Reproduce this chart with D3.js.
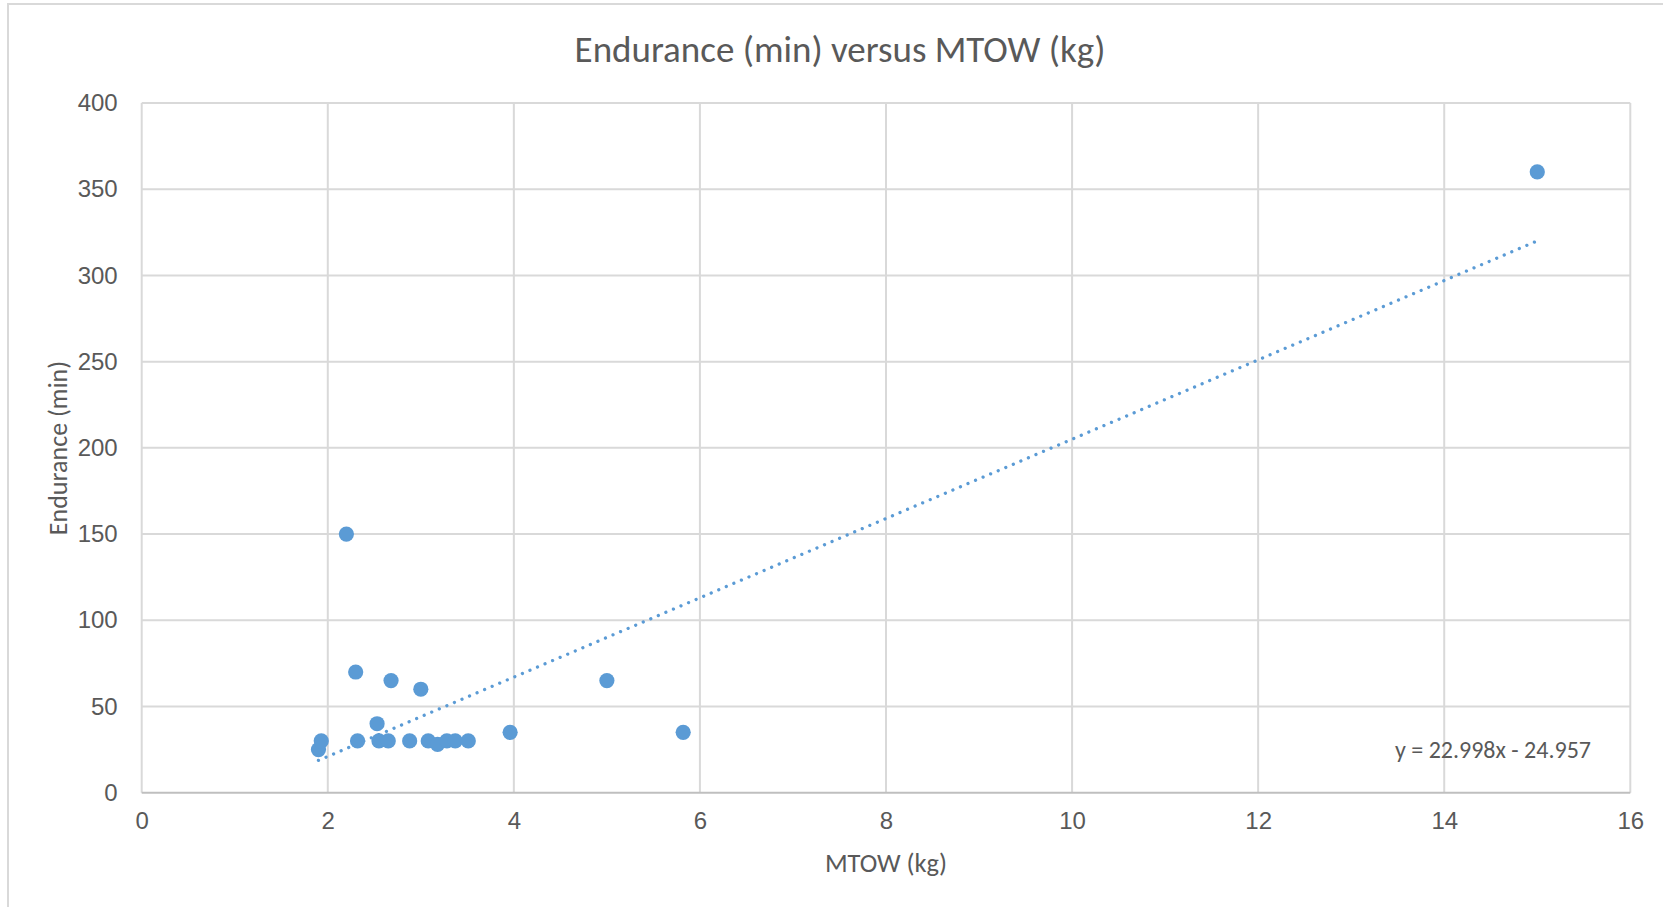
<!DOCTYPE html>
<html>
<head>
<meta charset="utf-8">
<script src="https://cdn.jsdelivr.net/npm/d3@7"></script>
<style>
  body { margin: 0; background: #fff; }
  svg { display: block; font-family: Carlito, Calibri, Lato, "Open Sans", sans-serif; }
</style>
</head>
<body>
<svg id="chart" width="1663" height="907"></svg>
<script>
// data
var mtow = [1.9, 1.93, 2.2, 2.3, 2.32, 2.53, 2.55, 2.65, 2.68, 2.88, 3.0, 3.08, 3.18, 3.28, 3.37, 3.51, 3.96, 5.0, 5.82, 15];
var endurance = [25, 30, 150, 70, 30, 40, 30, 30, 65, 30, 60, 30, 28, 30, 30, 30, 35, 65, 35, 360];
var xTicks = [0, 2, 4, 6, 8, 10, 12, 14, 16];
var yTicks = [0, 50, 100, 150, 200, 250, 300, 350, 400];
var trendSlope = 22.998, trendIntercept = -24.957;
var trendLabel = "y = 22.998x - 24.957";

var points = mtow.map(function(d, i){ return {x: d, y: endurance[i]} });

var svg = d3.select('#chart');
var plotLeft = 141.7, plotRight = 1630.3, plotTop = 103, plotBottom = 792.7;
var textColor = "#595959", gridColor = "#d9d9d9", blue = "#5b9bd5";

var x = d3.scaleLinear().domain([0, 16]).range([plotLeft, plotRight]);
var y = d3.scaleLinear().domain([0, 400]).range([plotBottom, plotTop]);

// chart frame
svg.append('rect')
	.attr('x', 8).attr('y', 4).attr('width', 1670).attr('height', 920)
	.attr('fill', 'none').attr('stroke', gridColor).attr('stroke-width', 2);

// gridlines
svg.append('g').selectAll('line').data(yTicks.slice(1)).enter().append('line')
	.attr('x1', plotLeft).attr('x2', plotRight)
	.attr('y1', function(d){ return y(d) }).attr('y2', function(d){ return y(d) })
	.attr('stroke', gridColor).attr('stroke-width', 2);
svg.append('g').selectAll('line').data(xTicks).enter().append('line')
	.attr('y1', plotTop).attr('y2', plotBottom)
	.attr('x1', function(d){ return x(d) }).attr('x2', function(d){ return x(d) })
	.attr('stroke', gridColor).attr('stroke-width', 2);

// x axis line
svg.append('line')
	.attr('x1', plotLeft).attr('x2', plotRight).attr('y1', plotBottom).attr('y2', plotBottom)
	.attr('stroke', '#bfbfbf').attr('stroke-width', 2);

// tick labels
var xAxis = d3.axisBottom(x).tickValues(xTicks).tickSize(0).tickPadding(19).tickFormat(d3.format('d'));
var gx = svg.append('g').attr('transform', 'translate(0,' + plotBottom + ')').call(xAxis);
gx.select('.domain').remove();
gx.selectAll('text').attr('fill', textColor).attr('font-size', 24).attr('font-family', null);

var yAxis = d3.axisLeft(y).tickValues(yTicks).tickSize(0).tickPadding(24).tickFormat(d3.format('d'));
var gy = svg.append('g').attr('transform', 'translate(' + plotLeft + ',0)').call(yAxis);
gy.select('.domain').remove();
gy.selectAll('text').attr('fill', textColor).attr('font-size', 24).attr('font-family', null);

// trendline
var xMin = d3.min(mtow), xMax = d3.max(mtow);
svg.append('line')
	.attr('x1', x(xMin)).attr('y1', y(trendSlope * xMin + trendIntercept))
	.attr('x2', x(xMax)).attr('y2', y(trendSlope * xMax + trendIntercept))
	.attr('stroke', blue).attr('stroke-width', 3.3)
	.attr('stroke-linecap', 'round').attr('stroke-dasharray', '0.01,8.2');

// markers
svg.append('g').selectAll('circle').data(points).enter().append('circle')
	.attr('cx', function(d){ return x(d.x) })
	.attr('cy', function(d){ return y(d.y) })
	.attr('r', 7.6)
	.attr('fill', blue);

// trendline equation
svg.append('text')
	.attr('x', 1591).attr('y', 750).attr('dy', '0.35em')
	.attr('text-anchor', 'end').attr('font-size', 24).attr('fill', textColor)
	.text(trendLabel);

// titles
svg.append('text')
	.attr('x', 840).attr('y', 49).attr('dy', '0.35em')
	.attr('text-anchor', 'middle').attr('font-size', 37).attr('fill', textColor)
	.text('Endurance (min) versus MTOW (kg)');
svg.append('text')
	.attr('x', 886).attr('y', 863).attr('dy', '0.35em')
	.attr('text-anchor', 'middle').attr('font-size', 26.5).attr('fill', textColor)
	.text('MTOW (kg)');
svg.append('text')
	.attr('transform', 'translate(58,448) rotate(-90)').attr('dy', '0.35em')
	.attr('text-anchor', 'middle').attr('font-size', 26).attr('fill', textColor)
	.text('Endurance (min)');
</script>
</body>
</html>
